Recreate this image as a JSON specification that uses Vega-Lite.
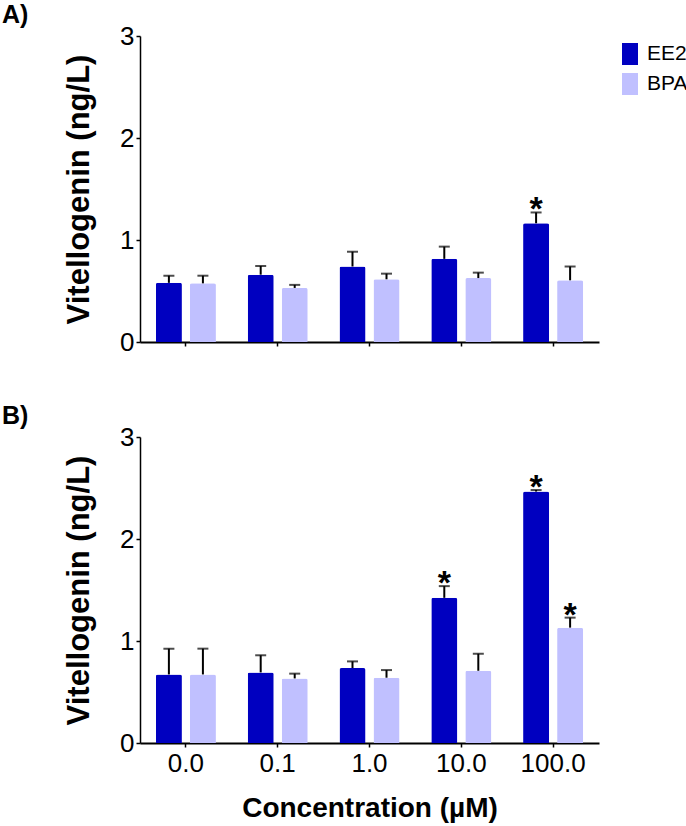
{
  "$schema": "https://vega.github.io/schema/vega-lite/v6.json",
  "padding": {"left": 2, "top": 3, "right": 2, "bottom": 2},
  "background": "white",
  "config": {
    "font": "Liberation Sans",
    "view": {"stroke": null},
    "axis": {
      "grid": false,
      "domainColor": "black",
      "tickColor": "black",
      "labelColor": "black",
      "titleColor": "black",
      "labelFont": "Liberation Sans",
      "titleFont": "Liberation Sans"
    },
    "title": {
      "fontSize": 25,
      "fontWeight": "bold",
      "anchor": "start",
      "frame": "group",
      "dx": -138,
      "offset": -5,
      "color": "black"
    },
    "concat": {"spacing": 49},
    "legend": {"labelFont": "Liberation Sans"}
  },
  "datasets": {
    "vtg": [
      {"panel": "A", "conc": "0.0", "compound": "EE2", "mean": 0.58, "upper": 0.65, "sig": ""},
      {"panel": "A", "conc": "0.0", "compound": "BPA", "mean": 0.575, "upper": 0.65, "sig": ""},
      {"panel": "A", "conc": "0.1", "compound": "EE2", "mean": 0.66, "upper": 0.745, "sig": ""},
      {"panel": "A", "conc": "0.1", "compound": "BPA", "mean": 0.53, "upper": 0.56, "sig": ""},
      {"panel": "A", "conc": "1.0", "compound": "EE2", "mean": 0.74, "upper": 0.885, "sig": ""},
      {"panel": "A", "conc": "1.0", "compound": "BPA", "mean": 0.615, "upper": 0.67, "sig": ""},
      {"panel": "A", "conc": "10.0", "compound": "EE2", "mean": 0.815, "upper": 0.935, "sig": ""},
      {"panel": "A", "conc": "10.0", "compound": "BPA", "mean": 0.627, "upper": 0.68, "sig": ""},
      {"panel": "A", "conc": "100.0", "compound": "EE2", "mean": 1.164, "upper": 1.27, "sig": "*"},
      {"panel": "A", "conc": "100.0", "compound": "BPA", "mean": 0.605, "upper": 0.74, "sig": ""},
      {"panel": "B", "conc": "0.0", "compound": "EE2", "mean": 0.672, "upper": 0.925, "sig": ""},
      {"panel": "B", "conc": "0.0", "compound": "BPA", "mean": 0.672, "upper": 0.925, "sig": ""},
      {"panel": "B", "conc": "0.1", "compound": "EE2", "mean": 0.692, "upper": 0.86, "sig": ""},
      {"panel": "B", "conc": "0.1", "compound": "BPA", "mean": 0.633, "upper": 0.68, "sig": ""},
      {"panel": "B", "conc": "1.0", "compound": "EE2", "mean": 0.735, "upper": 0.8, "sig": ""},
      {"panel": "B", "conc": "1.0", "compound": "BPA", "mean": 0.64, "upper": 0.715, "sig": ""},
      {"panel": "B", "conc": "10.0", "compound": "EE2", "mean": 1.423, "upper": 1.538, "sig": "*"},
      {"panel": "B", "conc": "10.0", "compound": "BPA", "mean": 0.708, "upper": 0.875, "sig": ""},
      {"panel": "B", "conc": "100.0", "compound": "EE2", "mean": 2.465, "upper": 2.48, "sig": "*"},
      {"panel": "B", "conc": "100.0", "compound": "BPA", "mean": 1.131, "upper": 1.229, "sig": "*"}
    ]
  },
  "vconcat": [
    {
      "title": {"text": "A)"},
      "width": 459,
      "height": 306,
      "data": {"name": "vtg"},
      "transform": [{"filter": "datum.panel === 'A'"}],
      "encoding": {
        "x": {
          "field": "conc", "type": "nominal",
          "sort": ["0.0", "0.1", "1.0", "10.0", "100.0"],
          "scale": {"paddingInner": 0.346, "paddingOuter": 0.173},
          "axis": {"labels": false, "title": null, "tickSize": 4, "domainWidth": 2, "tickWidth": 1.5}
        },
        "xOffset": {
          "field": "compound", "type": "nominal",
          "sort": ["EE2", "BPA"],
          "scale": {"paddingInner": 0.235, "paddingOuter": 0}
        }
      },
      "layer": [
        {
          "mark": {"type": "bar", "cornerRadiusTopLeft": 2, "cornerRadiusTopRight": 2},
          "encoding": {
            "y": {
              "field": "mean", "type": "quantitative",
              "scale": {"domain": [0, 3], "nice": false},
              "axis": {"values": [0, 1, 2, 3], "format": "d", "title": "Vitellogenin (ng/L)", "labelFontSize": 26, "tickSize": 4, "domainWidth": 1.5, "tickWidth": 1.5, "labelPadding": 2, "titleFontSize": 31, "titleFontWeight": "bold", "titlePadding": 24}
            },
            "color": {
              "field": "compound", "type": "nominal",
              "scale": {"domain": ["EE2", "BPA"], "range": ["#0000c0", "#c0c0ff"]},
              "legend": {"title": null, "symbolType": "M-0.727,-1H0.727V1H-0.727Z", "symbolSize": 484, "symbolStrokeWidth": 0, "labelFontSize": 21, "rowPadding": 8, "labelOffset": 6, "offset": 13, "padding": 7}
            }
          }
        },
        {
          "mark": {"type": "rule", "color": "black", "strokeWidth": 2},
          "encoding": {
            "y": {"field": "mean", "type": "quantitative", "title": "Vitellogenin (ng/L)"},
            "y2": {"field": "upper"}
          }
        },
        {
          "mark": {"type": "tick", "color": "black", "size": 11, "thickness": 2},
          "encoding": {
            "y": {"field": "upper", "type": "quantitative", "title": "Vitellogenin (ng/L)"}
          }
        },
        {
          "mark": {"type": "text", "fontSize": 34, "fontWeight": "bold", "baseline": "alphabetic", "dy": 8, "color": "black"},
          "encoding": {
            "y": {"field": "upper", "type": "quantitative", "title": "Vitellogenin (ng/L)"},
            "text": {"field": "sig"}
          }
        }
      ]
    },
    {
      "title": {"text": "B)"},
      "width": 459,
      "height": 306,
      "data": {"name": "vtg"},
      "transform": [{"filter": "datum.panel === 'B'"}],
      "encoding": {
        "x": {
          "field": "conc", "type": "nominal",
          "sort": ["0.0", "0.1", "1.0", "10.0", "100.0"],
          "scale": {"paddingInner": 0.346, "paddingOuter": 0.173},
          "axis": {"labelAngle": 0, "labelFontSize": 26, "tickSize": 4, "domainWidth": 2, "tickWidth": 1.5, "labelPadding": 3, "title": "Concentration (µM)", "titleFontSize": 28, "titleFontWeight": "bold", "titlePadding": 18}
        },
        "xOffset": {
          "field": "compound", "type": "nominal",
          "sort": ["EE2", "BPA"],
          "scale": {"paddingInner": 0.235, "paddingOuter": 0}
        }
      },
      "layer": [
        {
          "mark": {"type": "bar", "cornerRadiusTopLeft": 2, "cornerRadiusTopRight": 2},
          "encoding": {
            "y": {
              "field": "mean", "type": "quantitative",
              "scale": {"domain": [0, 3], "nice": false},
              "axis": {"values": [0, 1, 2, 3], "format": "d", "title": "Vitellogenin (ng/L)", "labelFontSize": 26, "tickSize": 4, "domainWidth": 1.5, "tickWidth": 1.5, "labelPadding": 2, "titleFontSize": 31, "titleFontWeight": "bold", "titlePadding": 24}
            },
            "color": {
              "field": "compound", "type": "nominal",
              "scale": {"domain": ["EE2", "BPA"], "range": ["#0000c0", "#c0c0ff"]},
              "legend": {"title": null, "symbolType": "M-0.727,-1H0.727V1H-0.727Z", "symbolSize": 484, "symbolStrokeWidth": 0, "labelFontSize": 21, "rowPadding": 8, "labelOffset": 6, "offset": 13, "padding": 7}
            }
          }
        },
        {
          "mark": {"type": "rule", "color": "black", "strokeWidth": 2},
          "encoding": {
            "y": {"field": "mean", "type": "quantitative", "title": "Vitellogenin (ng/L)"},
            "y2": {"field": "upper"}
          }
        },
        {
          "mark": {"type": "tick", "color": "black", "size": 11, "thickness": 2},
          "encoding": {
            "y": {"field": "upper", "type": "quantitative", "title": "Vitellogenin (ng/L)"}
          }
        },
        {
          "mark": {"type": "text", "fontSize": 34, "fontWeight": "bold", "baseline": "alphabetic", "dy": 8, "color": "black"},
          "encoding": {
            "y": {"field": "upper", "type": "quantitative", "title": "Vitellogenin (ng/L)"},
            "text": {"field": "sig"}
          }
        }
      ]
    }
  ]
}
